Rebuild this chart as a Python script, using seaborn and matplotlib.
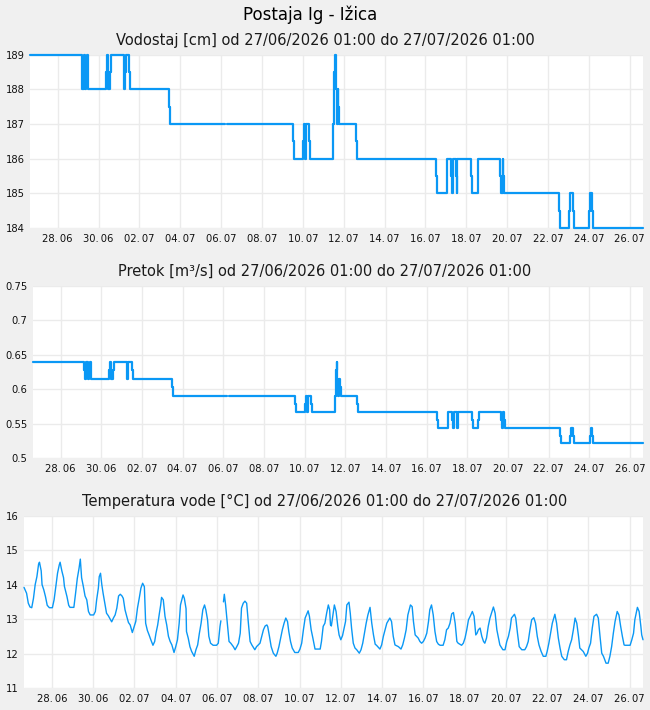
import numpy as np
import pandas as pd
import matplotlib
matplotlib.use("Agg")
import matplotlib.pyplot as plt
import seaborn as sns

nan = np.nan

# ---------------- text ----------------
title = "Postaja Ig - Ižica"
subtitles = [
    "Vodostaj [cm] od 27/06/2026 01:00 do 27/07/2026 01:00",
    "Pretok [m³/s] od 27/06/2026 01:00 do 27/07/2026 01:00",
    "Temperatura vode [°C] od 27/06/2026 01:00 do 27/07/2026 01:00",
]

# x axis: hours since 27/06/2026 01:00
tick_hours = [32.5, 80.5, 128.5, 176.5, 224.5, 272.5, 320.5, 368.5,
              416.5, 464.5, 512.5, 560.5, 608.5, 656.5, 704.5]
tick_labels = ["28.\u200906", "30.\u200906", "02.\u200907", "04.\u200907", "06.\u200907",
               "08.\u200907", "10.\u200907", "12.\u200907", "14.\u200907", "16.\u200907",
               "18.\u200907", "20.\u200907", "22.\u200907", "24.\u200907", "26.\u200907"]

# ---------------- water level / flow (step series) ----------------
level_hours = [0, 60.5, 61.5, 63, 64.5, 66, 67, 68, 89.6, 90.8, 92.2, 94.5, 95.7,
               110.8, 111.8, 112.5, 116.3, 117.6, 163.6, 164.8, 229.5, 230, 231,
               309.3, 310.5, 321, 322.2, 323, 324.5, 328, 329.2, 356.3, 357.3,
               358.3, 359.3, 360.3, 361.3, 362.2, 363.2, 382.5, 383.7, 477.3,
               478.4, 489.4, 490.2, 494.5, 495.5, 497, 500, 501, 502, 518, 519.2,
               525.8, 526.6, 552.4, 553.6, 555, 556, 557, 621.7, 622.9, 633.4,
               634.6, 637.8, 639, 657, 658.2, 660.1, 661.3, 720]
level_cm = [189, 188.5, 188, 189, 188, 188.5, 189, 188, 188.5, 189, 188, 188.5, 189,
            188, 188.5, 189, 188.5, 188, 187.5, 187, 187, nan, 187,
            186.5, 186, 186.5, 187, 186, 187, 186.5, 186, 187, 188.5,
            189, 188, 187, 188, 187.5, 187, 186.5, 186, 185.5,
            185, 185.5, 186, 185.5, 185, 186, 185.5, 185, 186, 185.5, 185,
            185.5, 186, 185.5, 185, 186, 185.5, 185, 184.5, 184, 184.5,
            185, 184.5, 184, 184.5, 185, 184.5, 184, 184]
flow_m3s = [0.640, 0.628, 0.615, 0.640, 0.615, 0.628, 0.640, 0.615, 0.628, 0.640, 0.615, 0.628, 0.640,
            0.615, 0.628, 0.640, 0.628, 0.615, 0.603, 0.590, 0.590, nan, 0.590,
            0.578, 0.567, 0.578, 0.590, 0.567, 0.590, 0.578, 0.567, 0.590, 0.628,
            0.640, 0.615, 0.590, 0.615, 0.603, 0.590, 0.578, 0.567, 0.555,
            0.543, 0.555, 0.567, 0.555, 0.543, 0.567, 0.555, 0.543, 0.567, 0.555, 0.543,
            0.555, 0.567, 0.555, 0.543, 0.567, 0.555, 0.543, 0.532, 0.522, 0.532,
            0.543, 0.532, 0.522, 0.532, 0.543, 0.532, 0.522, 0.522]

# ---------------- water temperature ----------------
temp_hours = [0, 3, 5, 7, 9, 11, 13, 15, 17, 18, 20, 21, 23, 25, 27, 29.5, 33, 35, 37, 39,
              41, 42, 44, 46, 47, 50, 52, 53.5, 58, 60, 62, 64, 65.5, 67, 69, 71, 73, 75,
              77, 81, 83, 84.5, 86.5, 87.5, 89, 90.5, 92, 94, 96, 98, 102, 104, 106, 108,
              110, 112, 114, 115.5, 117.5, 119.5, 121.5, 123.5, 126, 128, 130, 132, 134,
              136, 138, 140, 141.5, 143.5, 145.5, 147.5, 150, 152, 153.5, 155.5, 157.5,
              159, 160, 162, 164, 166, 168, 170, 172, 174.5, 176.5, 178.5, 180.5, 182,
              185, 186.5, 188.5, 189, 191, 193, 195, 198, 200, 202, 204, 206, 208, 210,
              211.5, 213.5, 215, 217, 220, 224, 226, 228, 229, 230.5,
              232, 233, 234.5, 236.5, 238.5, 240.5, 243.5, 245.5, 247.5, 249.5, 251.5,
              253, 255, 257, 259, 261, 263, 265, 268.5, 270.5, 272.5, 274.5, 276.5,
              278.5, 280.5, 282.5, 283.5, 285.5, 287.5, 290, 293, 294.5, 296.5, 298.5,
              300.5, 302.5, 304.5, 306.5, 308, 310, 312, 315, 319, 321, 323, 325, 327,
              330.5, 332, 334, 336, 338.5, 344.5, 346, 348, 350, 352, 354, 355.5, 356.5,
              357.5, 361, 363, 365, 366.5, 368.5, 370.5, 372, 374, 375.5, 378, 379.5,
              381, 383, 385, 387, 390, 392, 394, 396, 398, 400, 402.5, 404.5, 406.5,
              408.5, 410, 414, 416, 418, 420, 422, 425.5, 427.5, 429.5, 431.5, 435.5,
              438.5, 440.5, 442.5, 444.5, 446.5, 449.5, 451.5, 453, 455, 456.5, 458.5,
              460.5, 462.5, 464.5, 466.5, 468.5, 470.5, 472, 474, 476, 478, 480, 482,
              484, 487.5, 489.5, 491.5, 493.5, 495.5, 497.5, 499.5, 501.5, 503.5, 505,
              509, 511, 513, 515, 517, 519, 521.5, 523.5, 525.5, 527, 528.5, 530.5,
              532.5, 534.5, 536, 538, 540, 542, 546, 548, 550, 551.5, 553.5, 557, 559.5,
              561.5, 563.5, 565.5, 567, 570.5, 572, 574, 576, 579, 582.5, 584.5, 586.5,
              588.5, 590.5, 593, 595, 597, 599, 601.5, 604, 607, 608.5, 610.5, 612.5,
              614.5, 617.5, 619.5, 621.5, 623.5, 625.5, 628.5, 631, 633, 635, 637, 639,
              641, 643, 645, 646.5, 648.5, 650.5, 653.5, 655.5, 657, 659, 661, 663, 666,
              668, 670, 672, 674, 677, 679.5, 681.5, 683.5, 685.5, 687.5, 690, 692, 694,
              696, 698, 699, 705, 707, 709, 710.5, 713.5, 715.5, 717.5, 718.5, 720]
temp_c = [13.92, 13.75, 13.46, 13.35, 13.33, 13.6, 14.0, 14.23, 14.6, 14.65, 14.4, 14.0,
          13.85, 13.65, 13.4, 13.33, 13.33, 13.56, 13.94, 14.33, 14.57, 14.65, 14.4, 14.2,
          13.95, 13.65, 13.4, 13.34, 13.34, 13.75, 14.18, 14.47, 14.74, 14.2, 13.95, 13.67,
          13.56, 13.22, 13.12, 13.12, 13.22, 13.56, 13.9, 14.23, 14.33, 14.0, 13.75, 13.46,
          13.17, 13.1, 12.92, 13.03, 13.12, 13.32, 13.67, 13.72, 13.67, 13.6, 13.27, 13.08,
          12.9, 12.83, 12.61, 12.77, 12.93, 13.32, 13.6, 13.9, 14.04, 13.94, 12.88, 12.67,
          12.54, 12.4, 12.24, 12.35, 12.59, 12.83, 13.17, 13.41, 13.63, 13.56, 13.08, 12.83,
          12.5, 12.35, 12.25, 12.03, 12.2, 12.4, 12.88, 13.41, 13.7, 13.6, 13.3, 12.64,
          12.45, 12.2, 12.06, 11.92, 12.11, 12.25, 12.59, 12.88, 13.27, 13.41, 13.27, 12.98,
          12.5, 12.3, 12.24, 12.24, 12.3, 12.79, 12.95, nan,
          13.5, 13.72, 13.41, 12.88, 12.35, 12.3, 12.2, 12.11, 12.2, 12.3, 12.59,
          13.32, 13.46, 13.52, 13.46, 12.88, 12.35, 12.25, 12.11, 12.2, 12.25, 12.3, 12.5,
          12.69, 12.8, 12.83, 12.78, 12.5, 12.2, 12.01, 11.92, 12.01, 12.2, 12.45,
          12.69, 12.88, 13.03, 12.93, 12.64, 12.35, 12.16, 12.03, 12.03, 12.13, 12.3, 12.69, 13.03,
          13.24, 13.08, 12.69, 12.45, 12.13, 12.13, 12.35, 12.79, 12.88, 13.17, 13.41, 13.27, 12.83,
          12.8, 13.41, 13.22, 12.79, 12.54, 12.4, 12.52, 12.69, 12.93, 13.41, 13.49, 13.17,
          12.74, 12.3, 12.16, 12.11, 12.01, 12.11, 12.3, 12.59, 12.88, 13.12, 13.34, 12.88, 12.54,
          12.27, 12.24, 12.13, 12.25, 12.5, 12.69, 12.88, 13.03, 12.93, 12.5, 12.25, 12.2,
          12.13, 12.25, 12.45, 12.69, 13.12, 13.41, 13.36, 12.93, 12.54, 12.5, 12.45,
          12.35, 12.3, 12.35, 12.45, 12.59, 12.93, 13.27, 13.41, 13.12, 12.64, 12.35, 12.27,
          12.24, 12.24, 12.4, 12.69, 12.74, 12.88, 13.15, 13.19, 12.88, 12.35, 12.3,
          12.24, 12.3, 12.45, 12.69, 12.98, 13.08, 13.22, 13.08, 12.54, 12.59, 12.69, 12.74,
          12.5, 12.35, 12.3, 12.45, 12.79, 13.03, 13.35, 13.17, 12.69, 12.5, 12.25, 12.11, 12.11,
          12.35, 12.5, 12.74, 13.03, 13.14, 13.03, 12.59, 12.2, 12.11, 12.11, 12.2, 12.35,
          12.69, 12.98, 13.04, 12.88, 12.5, 12.25, 12.06, 11.92, 11.92, 12.06, 12.3, 12.59,
          12.88, 13.14, 12.88, 12.45, 12.16, 11.92, 11.82, 11.82, 12.06, 12.25, 12.4, 12.69,
          13.03, 12.88, 12.5, 12.16, 12.11, 12.06, 11.92, 12.01, 12.16, 12.3, 12.74, 13.08, 13.14,
          13.03, 12.5, 12.01, 11.92, 11.72, 11.72, 11.92, 12.2, 12.59, 12.93, 13.22, 13.12, 12.79,
          12.5, 12.25, 12.24, 12.24, 12.4, 12.59, 12.98, 13.34, 13.22, 12.79, 12.54, 12.4]

level_ticks = [184, 185, 186, 187, 188, 189]
level_tick_labels = ["184", "185", "186", "187", "188", "189"]
flow_ticks = [0.5, 0.55, 0.6, 0.65, 0.7, 0.75]
flow_tick_labels = ["0.5", "0.55", "0.6", "0.65", "0.7", "0.75"]
temp_ticks = [11, 12, 13, 14, 15, 16]
temp_tick_labels = ["11", "12", "13", "14", "15", "16"]

# ---------------- style ----------------
sns.set_theme(style="white")
plt.rcParams["font.family"] = ["DejaVu Sans"]
LINE = "#0a98f5"
GRID = "#ebebeb"
BG = "#f0f0f0"

W, H = 650, 710
fig = plt.figure(figsize=(W / 100, H / 100), dpi=100, facecolor=BG)


def make_df(hours, values):
    df = pd.DataFrame({"h": hours, "v": values})
    df["seg"] = df["v"].isna().cumsum()
    return df.dropna()


def px_axes(left, right, top, bottom):
    return fig.add_axes([left / W, 1 - bottom / H, (right - left) / W, (bottom - top) / H])


panels = [
    dict(box=(30, 643, 54.5, 228), hours=level_hours, vals=level_cm, steps=True, lw=1.6,
         ticks=level_ticks, labels=level_tick_labels, ylim=(184, 189), sub_y=45),
    dict(box=(33, 643, 285.7, 458), hours=level_hours, vals=flow_m3s, steps=True, lw=1.6,
         ticks=flow_ticks, labels=flow_tick_labels, ylim=(0.5, 0.75), sub_y=275.7),
    dict(box=(24, 643, 515.7, 688), hours=temp_hours, vals=temp_c, steps=False, lw=1.0,
         ticks=temp_ticks, labels=temp_tick_labels, ylim=(11, 16), sub_y=505.7),
]

for p, sub in zip(panels, subtitles):
    ax = px_axes(*p["box"])
    ax.set_facecolor("white")
    df = make_df(p["hours"], p["vals"])
    kw = dict(drawstyle="steps-post") if p["steps"] else {}
    sns.lineplot(data=df, x="h", y="v", units="seg", estimator=None, sort=False,
                 color=LINE, linewidth=p["lw"], ax=ax, legend=False, clip_on=False, **kw)
    ax.set_xlim(0, 720)
    ax.set_ylim(*p["ylim"])
    ax.set_xticks(tick_hours)
    ax.set_xticklabels(tick_labels)
    ax.set_yticks(p["ticks"])
    ax.set_yticklabels(p["labels"])
    ax.set_xlabel("")
    ax.set_ylabel("")
    for s in ax.spines.values():
        s.set_visible(False)
    ax.grid(True, color=GRID, linewidth=1.0)
    ax.set_axisbelow(True)
    ax.tick_params(axis="both", length=0, labelsize=7.2, colors="#111111")
    ax.tick_params(axis="y", pad=4.0)
    ax.tick_params(axis="x", pad=4.2)
    fig.text(0.5, 1 - p["sub_y"] / H, sub, ha="center", va="baseline",
             fontsize=10.5, color="#1a1a1a")

fig.text(310 / W, 1 - 20 / H, title, ha="center", va="baseline", fontsize=12, color="#000000")

fig.savefig("out.png", dpi=100, facecolor=BG)
